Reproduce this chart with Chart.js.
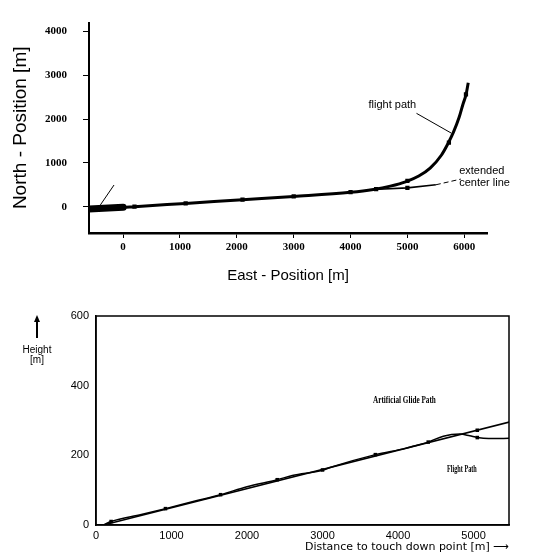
<!DOCTYPE html>
<html>
<head>
<meta charset="utf-8">
<script src="https://cdn.jsdelivr.net/npm/chart.js@4.4.1/dist/chart.umd.min.js"></script>
<style>
  html, body { margin: 0; padding: 0; background: #fff; }
  body { width: 546px; height: 555px; position: relative; overflow: hidden; }
  #top { position: absolute; left: 0; top: 0; }
  #bottom { position: absolute; left: 0; top: 290px; }
  #hlabel { position: absolute; left: 17px; top: 315px; width: 40px; text-align: center;
            font: 10px "Liberation Sans", Arial, sans-serif; line-height: 10px; color: #000; }
  #hlabel .shaft { width: 1.5px; height: 16px; background: #000; margin: 0 auto; }
  #hlabel .head { width: 0; height: 0; margin: 0 auto; border-left: 3px solid transparent;
                  border-right: 3px solid transparent; border-bottom: 7px solid #000; }
</style>
</head>
<body>
<canvas id="top" width="546" height="290"></canvas>
<canvas id="bottom" width="546" height="265"></canvas>
<div id="hlabel"><div class="head"></div><div class="shaft"></div><div style="margin-top:7px">Height</div><div>[m]</div></div>
<script>
// ---- ground track (plan view) ----
const eastPath  = [-600, -300, 0, 200, 1100, 2100, 3000, 4000, 4400, 4700, 4980, 5200, 5400, 5600, 5710, 5810, 5910, 5980, 6030, 6070];
const northPath = [-50, -35, -20, 0, 75, 160, 235, 330, 394, 470, 574, 700, 880, 1180, 1430, 1700, 2040, 2350, 2550, 2830];
const eastRunway  = [-600, 0];
const northRunway = [-50, -15];
const eastCenter  = [4400, 5000, 5500];
const northCenter = [394, 430, 500];
const eastMarks   = [200, 1100, 2100, 3000, 4000, 4450, 5000, 5000, 5730, 6030];
const northMarks  = [0, 75, 160, 235, 330, 400, 590, 430, 1460, 2560];
const eastTicks   = [0, 1000, 2000, 3000, 4000, 5000, 6000];
const northTicks  = [0, 1000, 2000, 3000, 4000];

// leader lines for the annotations (data coordinates)
const leaderFlightE = [5160, 5770], leaderFlightN = [2130, 1680];
const leaderCenterE = [5500, 5940], leaderCenterN = [500, 630];
const leaderOriginE = [-400, -160], leaderOriginN = [40, 495];

// ---- vertical profile ----
const distGlide   = [100, 5500];
const heightGlide = [0, 297];
const distFlight   = [100, 200, 600, 920, 1300, 1650, 2000, 2400, 2600, 3000, 3100, 3700, 4100, 4200, 4400, 4600, 4820, 4950, 5050, 5200, 5500];
const heightFlight = [0, 10, 30, 47, 68, 87, 110, 130, 142, 157, 165, 202, 220, 226, 238, 255, 261, 256, 251, 248, 249];
const distMarks   = [200, 920, 1650, 2400, 3000, 3700, 4400, 5050, 5050];
const heightMarks = [10, 47, 87, 130, 158, 202, 238, 251, 272];
const distTicks   = [0, 1000, 2000, 3000, 4000, 5000];
const heightTicks = [0, 200, 400, 600];

const pts = (xs, ys) => xs.map((x, i) => ({ x, y: ys[i] }));
const tickList = arr => arr.map(v => ({ value: v }));
const plainNumber = v => String(v);

// text labels placed at data coordinates
const textLabels = {
  id: 'textLabels',
  afterDraw(chart, args, opts) {
    const { ctx } = chart;
    const xs = chart.scales.x, ys = chart.scales.y;
    ctx.save();
    ctx.fillStyle = '#000';
    ctx.textBaseline = 'middle';
    ctx.textAlign = 'left';
    (opts.items || []).forEach(it => {
      const px = xs.getPixelForValue(it.x), py = ys.getPixelForValue(it.y);
      const sx = it.squeeze || 1;
      ctx.save();
      ctx.font = it.font;
      ctx.translate(px, py);
      ctx.scale(sx, 1);
      ctx.fillText(it.text, 0, 0);
      ctx.restore();
    });
    ctx.restore();
  }
};

// frame round the plot area
const frame = {
  id: 'frame',
  afterDraw(chart, args, opts) {
    if (!opts.on) return;
    const { ctx, chartArea: a } = chart;
    ctx.save();
    ctx.strokeStyle = '#000';
    ctx.lineWidth = 1.5;
    ctx.strokeRect(a.left, a.top, a.right - a.left, a.bottom - a.top);
    ctx.restore();
  }
};

Chart.defaults.color = '#000';
Chart.defaults.animation = false;

const lineDs = (data, width, extra) => Object.assign({
  data, borderColor: '#000', backgroundColor: '#000', borderWidth: width,
  pointRadius: 0, showLine: true, fill: false
}, extra || {});

new Chart(document.getElementById('top'), {
  type: 'scatter',
  data: {
    datasets: [
      lineDs(pts(eastPath, northPath), 3, { cubicInterpolationMode: 'monotone' }),
      lineDs(pts(eastRunway, northRunway), 7, { borderCapStyle: 'round' }),
      lineDs(pts(eastCenter, northCenter), 1.6),
      lineDs(pts(eastMarks, northMarks), 0, { showLine: false, pointRadius: 3, pointStyle: 'rect' }),
      lineDs(pts(leaderFlightE, leaderFlightN), 1),
      lineDs(pts(leaderCenterE, leaderCenterN), 1, { borderDash: [5, 3] }),
      lineDs(pts(leaderOriginE, leaderOriginN), 1)
    ]
  },
  options: {
    responsive: false,
    devicePixelRatio: 1,
    layout: { padding: { top: 10, right: 59, left: 0, bottom: 0 } },
    plugins: {
      legend: { display: false }, tooltip: { enabled: false },
      textLabels: { items: [
        { text: 'flight path', x: 4316, y: 2330, font: '11px "Liberation Sans", Arial, sans-serif' },
        { text: 'extended', x: 5910, y: 810, font: '11px "Liberation Sans", Arial, sans-serif' },
        { text: 'center line', x: 5910, y: 530, font: '11px "Liberation Sans", Arial, sans-serif' }
      ] },
      frame: { on: false }
    },
    scales: {
      x: {
        type: 'linear', min: -600, max: 6400,
        afterFit(s) { s.height = 57; },
        afterBuildTicks(s) { s.ticks = tickList(eastTicks); },
        grid: { drawOnChartArea: false, drawTicks: true, tickLength: 5, color: '#000', lineWidth: 1 },
        border: { color: '#000', width: 2.5 },
        ticks: { padding: 3, callback: plainNumber,
                 font: { family: '"Liberation Serif", serif', size: 11, weight: 'bold' } },
        title: { display: true, text: 'East - Position [m]', padding: { top: 0, bottom: 5 },
                 font: { family: '"Liberation Sans", Arial, sans-serif', size: 15 } }
      },
      y: {
        type: 'linear', min: -600, max: 4200,
        afterFit(s) { s.width = 89; },
        afterBuildTicks(s) { s.ticks = tickList(northTicks); },
        grid: { drawOnChartArea: false, drawTicks: true, tickLength: 6, color: '#000', lineWidth: 1 },
        border: { color: '#000', width: 2 },
        ticks: { padding: 16, callback: plainNumber,
                 font: { family: '"Liberation Serif", serif', size: 11, weight: 'bold' } },
        title: { display: true, text: 'North - Position [m]', padding: { top: 9, bottom: 0 },
                 font: { family: '"Liberation Sans", Arial, sans-serif', size: 19 } }
      }
    }
  },
  plugins: [textLabels, frame]
});

new Chart(document.getElementById('bottom'), {
  type: 'scatter',
  data: {
    datasets: [
      lineDs(pts(distGlide, heightGlide), 1.5),
      lineDs(pts(distFlight, heightFlight), 1.5, { cubicInterpolationMode: 'monotone' }),
      lineDs(pts(distMarks, heightMarks), 0, { showLine: false, pointRadius: 2.5, pointStyle: 'rect' })
    ]
  },
  options: {
    responsive: false,
    devicePixelRatio: 1,
    layout: { padding: { top: 26, right: 37, left: 0, bottom: 0 } },
    plugins: {
      legend: { display: false }, tooltip: { enabled: false },
      textLabels: { items: [
        { text: 'Artificial Glide Path', x: 3669, y: 358, squeeze: 0.72, font: 'bold 10px "Liberation Serif", serif' },
        { text: 'Flight Path', x: 4649, y: 160, squeeze: 0.62, font: 'bold 10px "Liberation Serif", serif' }
      ] },
      frame: { on: true }
    },
    scales: {
      x: {
        type: 'linear', min: 0, max: 5470,
        afterFit(s) { s.height = 30; },
        afterBuildTicks(s) { s.ticks = tickList(distTicks); },
        grid: { display: false, drawTicks: false },
        border: { color: '#000', width: 1.5 },
        ticks: { padding: 4, callback: plainNumber,
                 font: { family: '"Liberation Sans", Arial, sans-serif', size: 11 } },
        title: { display: true, align: 'end', text: 'Distance to touch down point [m] ⟶',
                 padding: { top: 0, bottom: 1 },
                 font: { family: '"DejaVu Sans", sans-serif', size: 11 } }
      },
      y: {
        type: 'linear', min: 0, max: 600,
        afterFit(s) { s.width = 96; },
        afterBuildTicks(s) { s.ticks = tickList(heightTicks); },
        grid: { display: false, drawTicks: false },
        border: { color: '#000', width: 1.5 },
        ticks: { padding: 7, callback: plainNumber,
                 font: { family: '"Liberation Sans", Arial, sans-serif', size: 11 } }
      }
    }
  },
  plugins: [textLabels, frame]
});
</script>
</body>
</html>
